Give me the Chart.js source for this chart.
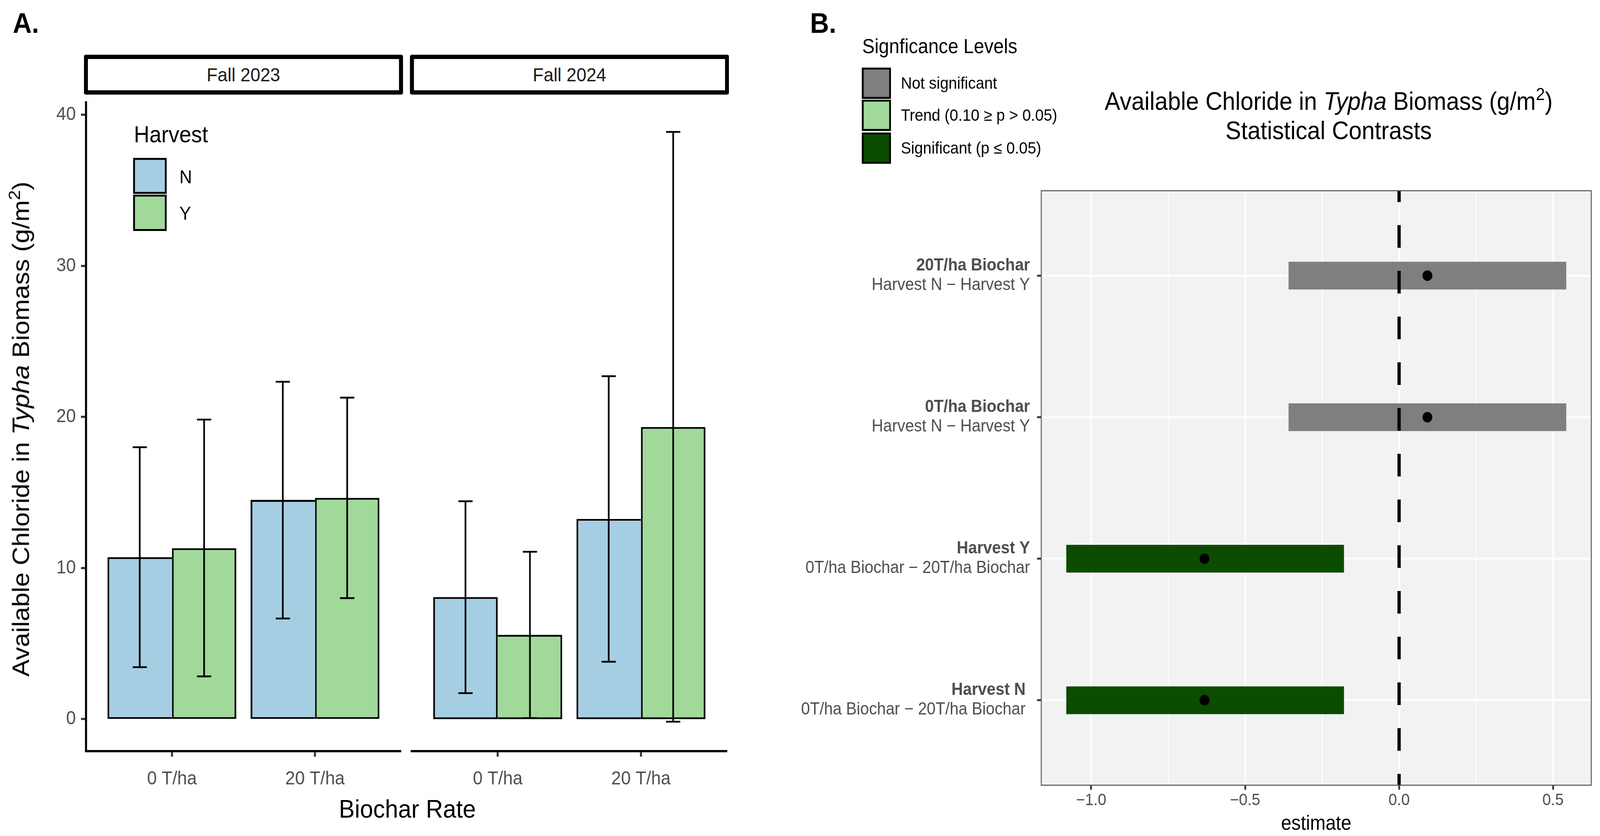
<!DOCTYPE html>
<html>
<head>
<meta charset="utf-8">
<title>Available Chloride in Typha Biomass</title>
<script src="https://cdn.jsdelivr.net/npm/chart.js@4.4.1/dist/chart.umd.min.js"></script>
<style>
  html, body { margin:0; padding:0; background:#ffffff; width:100%; height:100%; overflow:hidden; }
  #stage { position:absolute; left:0; top:0; width:4387px; height:2139px; transform-origin:0 0; overflow:hidden;
           font-family:'Liberation Sans', Arial, sans-serif; color:#000; background:#ffffff; }
  #stage canvas { position:absolute; left:0; top:0; }
  .txt { position:absolute; white-space:pre; line-height:1; }
  .strip { position:absolute; box-sizing:border-box; border:11px solid #000; border-radius:5px; display:flex; align-items:center; justify-content:center; font-size:49px; line-height:1; color:#1A1A1A; background:#fff; }
  .key { position:absolute; box-sizing:border-box; border:5px solid #000; }
  sup { font-size:0.7em; line-height:0; vertical-align:0.55em; }
</style>
</head>
<body>
<div id="stage">
  <canvas id="facet2023" width="4387" height="2139"></canvas>
  <canvas id="facet2024" width="4387" height="2139"></canvas>
  <canvas id="contrasts" width="4387" height="2139"></canvas>
</div>
<script>
// ---------------- DATA (panel A) ----------------
const seasons = ['Fall 2023', 'Fall 2024'];
const biocharRates = ['0 T/ha', '20 T/ha'];
const harvestLevels = ['N', 'Y'];
const harvestColors = ['#A6CEE3', '#A1D99B'];

const meanN2023 = [10.72, 14.51];
const meanY2023 = [11.31, 14.64];
const lowN2023  = [3.44, 6.66];
const highN2023 = [18.00, 22.33];
const lowY2023  = [2.83, 8.01];
const highY2023 = [19.83, 21.28];

const meanN2024 = [8.08, 13.25];
const meanY2024 = [5.58, 19.34];
const lowN2024  = [1.72, 3.80];
const highN2024 = [14.42, 22.70];
const lowY2024  = [0.07, -0.17];
const highY2024 = [11.08, 38.87];

const yTicksA = [0, 10, 20, 30, 40];

// ---------------- DATA (panel B) ----------------
const contrastGroups = ['Harvest N ', 'Harvest Y', '0T/ha Biochar', '20T/ha Biochar'];
const contrastTerms  = ['0T/ha Biochar \u2212 20T/ha Biochar ', '0T/ha Biochar \u2212 20T/ha Biochar', 'Harvest N \u2212 Harvest Y', 'Harvest N \u2212 Harvest Y'];
const estimates = [-0.632, -0.632, 0.092, 0.092];
const lowerCL   = [-1.081, -1.081, -0.359, -0.359];
const upperCL   = [-0.179, -0.179, 0.543, 0.543];
const significance = ['Significant (p \u2264 0.05)', 'Significant (p \u2264 0.05)', 'Not significant', 'Not significant'];
const sigLevels = ['Not significant', 'Trend (0.10 \u2265 p > 0.05)', 'Significant (p \u2264 0.05)'];
const sigColors = ['#7F7F7F', '#A1D99B', '#0C4C00'];
const xTicksB = [-1.0, -0.5, 0.0, 0.5];
const xMinorB = [-0.75, -0.25, 0.25];
const referenceLine = 0;

// ---------------- LAYOUT ----------------
const PAGE_W = 4387, PAGE_H = 2139;
const areaA1 = {left:236, top:262, right:1099, bottom:1922};
const areaA2 = {left:1129, top:262, right:1993, bottom:1922};
const areaB  = {left:2855, top:488, right:4363, bottom:2009};
const FONT = "'Liberation Sans', Arial, sans-serif";
const stage = document.getElementById('stage');

function fitStage() {
  let sx = window.innerWidth / PAGE_W, sy = window.innerHeight / PAGE_H;
  if (!isFinite(sx) || sx <= 0) sx = 1;
  if (!isFinite(sy) || sy <= 0) sy = 1;
  stage.style.transform = 'scale(' + sx + ',' + sy + ')';
}
fitStage();
window.addEventListener('resize', fitStage);

Chart.defaults.font.family = FONT;
Chart.defaults.color = '#4D4D4D';
Chart.defaults.animation = false;
Chart.defaults.plugins.legend.display = false;
Chart.defaults.plugins.tooltip.enabled = false;

// ggplot-like 5% expansion of the value range
const allA = [0].concat(meanN2023, meanY2023, lowN2023, highN2023, lowY2023, highY2023,
                        meanN2024, meanY2024, lowN2024, highN2024, lowY2024, highY2024);
const loA = Math.min(...allA), hiA = Math.max(...allA), padA = 0.05 * (hiA - loA);
const yMinA = loA - padA, yMaxA = hiA + padA;

const errorBarPlugin = {
  id: 'errorBars',
  afterDatasetsDraw(chart) {
    const ctx = chart.ctx, ys = chart.scales.y;
    ctx.save();
    ctx.strokeStyle = '#000';
    ctx.lineWidth = 4.6;
    ctx.lineCap = 'butt';
    chart.data.datasets.forEach((ds, k) => {
      if (!ds.errLow) return;
      const meta = chart.getDatasetMeta(k);
      meta.data.forEach((bar, i) => {
        const yl = ys.getPixelForValue(ds.errLow[i]);
        const yh = ys.getPixelForValue(ds.errHigh[i]);
        const half = 19.5;
        ctx.beginPath();
        ctx.moveTo(bar.x, yl); ctx.lineTo(bar.x, yh);
        ctx.moveTo(bar.x - half, yl); ctx.lineTo(bar.x + half, yl);
        ctx.moveTo(bar.x - half, yh); ctx.lineTo(bar.x + half, yh);
        ctx.stroke();
      });
    });
    ctx.restore();
  }
};

function makeFacet(id, meansN, meansY, lowsN, highsN, lowsY, highsY, area, showY) {
  const means = [meansN, meansY];
  const lows = [lowsN, lowsY], highs = [highsN, highsY];
  const BW = 4.8;
  const datasets = harvestLevels.map((h, k) => ({
    label: h,
    data: biocharRates.map((r, i) => ({x: i + 1, y: means[k][i]})),
    backgroundColor: harvestColors[k],
    borderColor: '#000000',
    borderWidth: (ctx) => {
      const i = ctx.dataIndex;
      if (i === undefined) return BW;
      const mine = means[k][i], other = means[1 - k][i];
      const keepShared = k === 0 ? mine >= other : mine > other;
      const s = keepShared ? BW : 0;
      return k === 0 ? {top: BW, bottom: BW, left: BW, right: s} : {top: BW, bottom: BW, left: s, right: BW};
    },
    borderSkipped: false,
    inflateAmount: 0,
    categoryPercentage: 0.9,
    barPercentage: 1.0,
    errLow: lows[k],
    errHigh: highs[k]
  }));
  const yScale = {
    type: 'linear', min: yMinA, max: yMaxA, display: showY,
    afterBuildTicks: (s) => { s.ticks = yTicksA.map(v => ({value: v})); },
    grid: { drawOnChartArea: false, drawTicks: true, tickLength: 14, tickWidth: 5.5, tickColor: '#333333' },
    border: { display: true, color: '#000000', width: 5.7 },
    ticks: { padding: 14, color: '#4D4D4D', font: {size: 48, lineHeight: 1}, callback: (v) => String(v) }
  };
  if (showY) yScale.afterFit = (s) => { s.width = area.left; };
  return new Chart(document.getElementById(id), {
    type: 'bar',
    data: { datasets },
    options: {
      responsive: false, maintainAspectRatio: false, devicePixelRatio: 1,
      layout: { padding: { left: showY ? 0 : area.left, top: area.top, right: PAGE_W - area.right, bottom: 0 } },
      scales: {
        x: {
          type: 'linear', min: 0.4, max: biocharRates.length + 0.6, offset: false,
          afterBuildTicks: (s) => { s.ticks = biocharRates.map((_, i) => ({value: i + 1})); },
          afterFit: (s) => { s.height = PAGE_H - area.bottom; },
          grid: { offset: false, drawOnChartArea: false, drawTicks: true, tickLength: 14, tickWidth: 5.5, tickColor: '#333333' },
          border: { display: true, color: '#000000', width: 5.7 },
          ticks: { autoSkip: false, maxRotation: 0, minRotation: 0, padding: 34, color: '#4D4D4D', font: {size: 48, lineHeight: 1},
                   callback: (v) => biocharRates[Math.round(v) - 1] ?? '' }
        },
        y: yScale
      }
    },
    plugins: [errorBarPlugin]
  });
}

makeFacet('facet2023', meanN2023, meanY2023, lowN2023, highN2023, lowY2023, highY2023, areaA1, true);
makeFacet('facet2024', meanN2024, meanY2024, lowN2024, highN2024, lowY2024, highY2024, areaA2, false);

// ---------------- PANEL B ----------------
const nB = contrastGroups.length;
const loB = Math.min(...lowerCL), hiB = Math.max(...upperCL), padB = 0.05 * (hiB - loB);
const xMinB = loB - padB, xMaxB = hiB + padB;
const yMinB = 1 - 0.6, yMaxB = nB + 0.6;
const isMajorB = (v) => xTicksB.some(t => Math.abs(t - v) < 1e-9);
const fmtB = (v) => (v < -1e-9 ? '\u2212' : '') + Math.abs(v).toFixed(1);

const panelPlugin = {
  id: 'panelB',
  beforeDraw(chart) {
    const {ctx, chartArea: a} = chart;
    ctx.save();
    ctx.fillStyle = '#F2F2F2';
    ctx.fillRect(a.left, a.top, a.right - a.left, a.bottom - a.top);
    ctx.restore();
  },
  afterDraw(chart) {
    const {ctx, chartArea: a} = chart;
    const ys = chart.scales.y;
    ctx.save();
    ctx.strokeStyle = '#4D4D4D';
    ctx.lineWidth = 2.5;
    ctx.strokeRect(a.left, a.top, a.right - a.left, a.bottom - a.top);
    ctx.fillStyle = '#4D4D4D';
    ctx.textAlign = 'right';
    ctx.textBaseline = 'alphabetic';
    const xr = a.left - 31;
    const fs = 43.5;
    contrastGroups.forEach((g, i) => {
      const py = ys.getPixelForValue(i + 1);
      ctx.font = 'bold ' + fs + 'px ' + FONT;
      ctx.fillText(g, xr, py - 29 + 0.358 * fs);
      ctx.font = fs + 'px ' + FONT;
      ctx.fillText(contrastTerms[i], xr, py + 21 + 0.358 * fs);
    });
    ctx.restore();
  }
};

new Chart(document.getElementById('contrasts'), {
  type: 'bar',
  data: {
    datasets: [
      {
        type: 'bar', indexAxis: 'y', label: 'Confidence interval',
        data: contrastGroups.map((g, i) => ({y: i + 1, x: [lowerCL[i], upperCL[i]]})),
        backgroundColor: significance.map(s => sigColors[sigLevels.indexOf(s)]),
        borderWidth: 0, inflateAmount: 0,
        categoryPercentage: 0.196, barPercentage: 1.0,
        order: 2
      },
      {
        type: 'line', indexAxis: 'x', label: 'Zero',
        data: [{x: referenceLine, y: yMaxB}, {x: referenceLine, y: yMinB}],
        borderColor: '#000000', borderWidth: 9, borderDash: [58, 59], borderDashOffset: 29,
        pointRadius: 0, fill: false, tension: 0, order: 1
      },
      {
        type: 'scatter', indexAxis: 'x', label: 'Estimate',
        data: estimates.map((e, i) => ({x: e, y: i + 1})),
        backgroundColor: '#000000', borderWidth: 0, pointRadius: 13.5, order: 0
      }
    ]
  },
  options: {
    responsive: false, maintainAspectRatio: false, devicePixelRatio: 1,
    indexAxis: 'y',
    layout: { padding: { left: 2200, top: areaB.top, right: PAGE_W - areaB.right, bottom: 0 } },
    scales: {
      x: {
        type: 'linear', min: xMinB, max: xMaxB, offset: false,
        afterBuildTicks: (s) => { s.ticks = xTicksB.concat(xMinorB).sort((a, b) => a - b).map(v => ({value: v})); },
        afterFit: (s) => { s.height = PAGE_H - areaB.bottom; },
        grid: {
          offset: false, color: '#FFFFFF',
          lineWidth: (c) => (c.tick && isMajorB(c.tick.value)) ? 4.85 : 2.4,
          drawTicks: true, tickLength: 11.5, tickWidth: 4.85,
          tickColor: (c) => (c.tick && isMajorB(c.tick.value)) ? '#333333' : 'rgba(0,0,0,0)'
        },
        border: { display: false },
        ticks: { autoSkip: false, maxRotation: 0, minRotation: 0, padding: 6.5, color: '#4D4D4D', font: {size: 42, lineHeight: 1},
                 callback: (v) => isMajorB(v) ? fmtB(v) : '' }
      },
      y: {
        type: 'linear', min: yMinB, max: yMaxB, offset: false,
        afterBuildTicks: (s) => { s.ticks = contrastGroups.map((_, i) => ({value: i + 1})); },
        afterFit: (s) => { s.width = areaB.left - 2200; },
        grid: { offset: false, color: '#FFFFFF', lineWidth: 4.85, drawTicks: true, tickLength: 11.5, tickWidth: 4.85, tickColor: '#333333' },
        border: { display: false },
        ticks: { display: false }
      }
    }
  },
  plugins: [panelPlugin]
});

// ---------------- TEXT / LEGENDS (HTML) ----------------
function addText(html, o) {
  const d = document.createElement('div');
  d.className = 'txt';
  d.innerHTML = html;
  d.style.fontSize = o.size + 'px';
  if (o.bold) d.style.fontWeight = 'bold';
  if (o.color) d.style.color = o.color;
  const top = (o.baseline !== undefined) ? o.baseline - 0.8465 * o.size : o.capY - 0.4885 * o.size;
  d.style.top = top + 'px';
  if (o.cx !== undefined) { d.style.left = o.cx + 'px'; d.style.transform = 'translateX(-50%)'; }
  else d.style.left = o.left + 'px';
  stage.appendChild(d);
  return d;
}
function addBox(cls, left, top, w, h, bg, text) {
  const d = document.createElement('div');
  d.className = cls;
  d.style.left = left + 'px'; d.style.top = top + 'px';
  d.style.width = w + 'px'; d.style.height = h + 'px';
  if (bg) d.style.background = bg;
  if (text) d.textContent = text;
  stage.appendChild(d);
  return d;
}

// panel tags
addText('A.', {left: 35, capY: 58, size: 72, bold: true});
addText('B.', {left: 2221, capY: 58, size: 72, bold: true});

// strips
addBox('strip', 230, 140, 875, 102, '#fff', seasons[0]);
addBox('strip', 1124, 140, 875, 102, '#fff', seasons[1]);

// harvest legend
addText('Harvest', {left: 367, capY: 344, size: 59});
addBox('key', 365, 404, 92, 92, harvestColors[0]);
addBox('key', 365, 498, 92, 93, harvestColors[1]);
addText(harvestLevels[0], {left: 492, capY: 452, size: 48});
addText(harvestLevels[1], {left: 492, capY: 545, size: 48});

// axis titles panel A
addText('Biochar Rate', {cx: 1117, capY: 2069, size: 65});
const yt = document.createElement('div');
yt.className = 'txt';
yt.style.fontSize = '66px';
yt.style.left = '57px';
yt.style.top = '1098px';
yt.style.transform = 'translate(-50%, -50%) rotate(-90deg)';
yt.innerHTML = 'Available Chloride in <i>Typha</i> Biomass (g/m<sup>2</sup>)';
stage.appendChild(yt);

// significance legend
addText('Signficance Levels', {left: 2364, capY: 118, size: 51});
const keyTops = [173, 255, 339];
sigLevels.forEach((lv, i) => {
  addBox('key', 2363, keyTops[i], 80, 80, sigColors[i]);
  addText(lv, {left: 2470, capY: keyTops[i] + 40, size: 42});
});

// title panel B
addText('Available Chloride in <i>Typha</i> Biomass (g/m<sup>2</sup>)', {cx: 3643, capY: 258, size: 64});
addText('Statistical Contrasts', {cx: 3643, capY: 333, size: 64});
addText('estimate', {cx: 3609, baseline: 2123, size: 51});
</script>
</body>
</html>
